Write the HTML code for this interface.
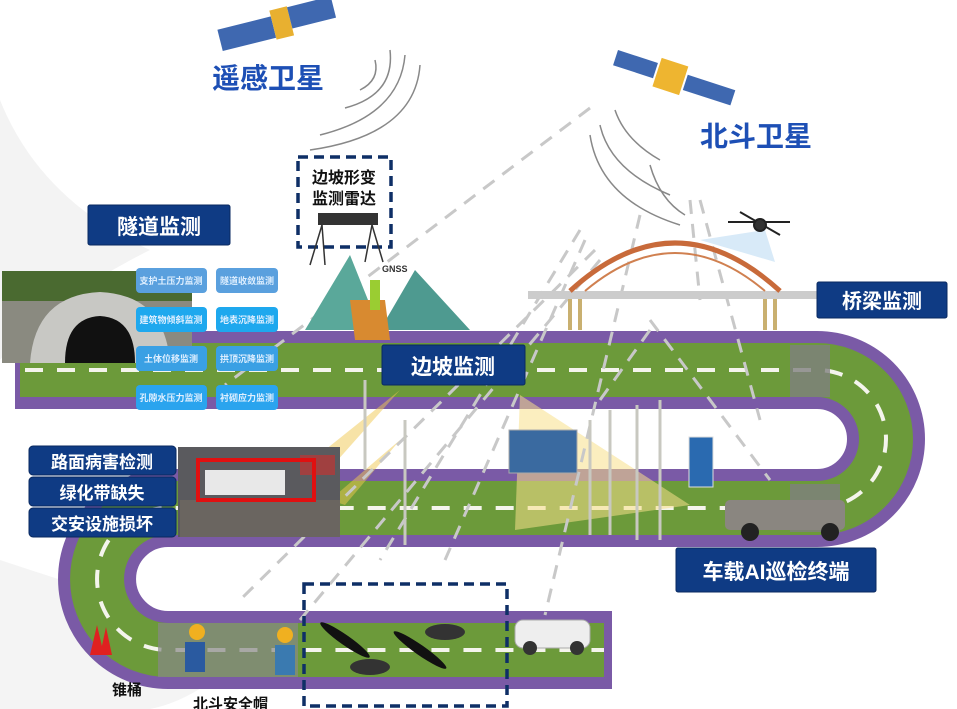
<!DOCTYPE html>
<html><head><meta charset="utf-8"><style>
html,body{margin:0;padding:0;background:#fff;}
svg{display:block;}
text{font-family:"Liberation Sans","Noto Sans CJK SC",sans-serif;font-weight:bold;}
</style></head><body>
<svg width="957" height="709" viewBox="0 0 957 709" xmlns="http://www.w3.org/2000/svg">
<rect width="957" height="709" fill="#fff"/>
<!-- faint swoosh -->
<path d="M0 100 Q40 200 150 250 Q50 300 0 360 Z" fill="#f3f3f3"/>
<path d="M0 560 Q120 600 260 640 Q200 700 150 709 L0 709 Z" fill="#f4f4f4"/>

<!-- road -->
<g fill="none">
<path d="M15 370 H817 A69 69 0 0 1 817 508 H168 A71 71 0 0 0 168 650 H612" stroke="#7a5aa6" stroke-width="78"/>
<path d="M20 370 H817 A69 69 0 0 1 817 508 H168 A71 71 0 0 0 168 650 H604" stroke="#6c9a3a" stroke-width="54"/>
<path d="M25 370 H817 A69 69 0 0 1 817 508 H168 A71 71 0 0 0 168 650 H604" stroke="#f4f4ec" stroke-width="4" stroke-dasharray="18 14"/>
</g>
<rect x="790" y="345" width="40" height="52" fill="#808080" opacity=".8"/>
<rect x="790" y="484" width="50" height="48" fill="#808080" opacity=".8"/>
<rect x="158" y="623" width="140" height="54" fill="#888" opacity=".7"/>

<!-- light beams -->
<polygon points="520,395 690,505 515,530" fill="#f7e08a" opacity=".55"/>
<polygon points="400,390 300,470 320,480" fill="#f0c850" opacity=".5"/>
<polygon points="400,440 330,500 345,505" fill="#f0c850" opacity=".5"/>

<!-- dashed signal lines -->
<g stroke="#c8c8c8" stroke-width="3" stroke-dasharray="14 10" fill="none">
<line x1="590" y1="108" x2="225" y2="385"/>
<line x1="580" y1="230" x2="380" y2="560"/>
<line x1="585" y1="240" x2="445" y2="560"/>
<line x1="600" y1="260" x2="300" y2="620"/>
<line x1="595" y1="250" x2="240" y2="600"/>
<line x1="640" y1="215" x2="545" y2="615"/>
<line x1="650" y1="330" x2="600" y2="400"/>
<line x1="650" y1="320" x2="770" y2="480"/>
<line x1="690" y1="200" x2="700" y2="300"/>
<line x1="700" y1="200" x2="760" y2="420"/>
</g>
<!-- signal arcs -->
<g stroke="#888" stroke-width="1.5" fill="none">
<path d="M360 90 Q380 80 375 60"/>
<path d="M345 108 Q395 95 390 50"/>
<path d="M320 135 Q400 115 405 55"/>
<path d="M310 150 Q415 135 420 65"/>
<path d="M615 110 Q625 140 660 160"/>
<path d="M600 125 Q610 170 670 195"/>
<path d="M590 135 Q600 200 680 225"/>
<path d="M650 165 Q660 200 685 215"/>
</g>

<!-- satellites -->
<g transform="translate(215,20) rotate(-14)">
<rect x="0" y="10" width="55" height="22" fill="#3f68b0"/>
<rect x="55" y="4" width="18" height="30" fill="#e8b030"/>
<rect x="73" y="5" width="45" height="22" fill="#3f68b0"/>
</g>
<g transform="translate(618,50) rotate(18)">
<rect x="0" y="0" width="42" height="16" fill="#3f68b0"/>
<rect x="44" y="-6" width="28" height="30" fill="#eeb530"/>
<rect x="74" y="2" width="50" height="16" fill="#3f68b0"/>
</g>
<text x="212" y="88" font-size="28" fill="#1d4fb5">遥感卫星</text>
<text x="700" y="146" font-size="28" fill="#1d4fb5">北斗卫星</text>

<!-- radar box -->
<rect x="298" y="157" width="93" height="90" fill="#fff" stroke="#0e2f66" stroke-width="3.5" stroke-dasharray="10 6"/>
<text x="344" y="183" font-size="16" fill="#111" text-anchor="middle">边坡形变</text>
<text x="344" y="204" font-size="16" fill="#111" text-anchor="middle">监测雷达</text>
<rect x="318" y="213" width="60" height="12" fill="#333"/>
<g stroke="#333" stroke-width="1.5"><line x1="322" y1="225" x2="310" y2="265"/><line x1="322" y1="225" x2="325" y2="265"/><line x1="372" y1="225" x2="365" y2="262"/><line x1="372" y1="225" x2="383" y2="262"/></g>

<!-- mountains -->
<polygon points="305,330 350,255 380,330" fill="#5aa89a"/>
<polygon points="380,330 415,270 470,330" fill="#4e9a90"/>
<polygon points="350,300 385,300 390,340 355,340" fill="#d88a30"/>
<rect x="370" y="280" width="10" height="30" fill="#9acd32"/>
<text x="382" y="272" font-size="9" fill="#333" font-weight="normal">GNSS</text>

<!-- bridge -->
<rect x="528" y="291" width="290" height="8" fill="#ccc"/>
<path d="M570 291 Q675 195 780 291" fill="none" stroke="#c86a3a" stroke-width="5"/>
<path d="M585 291 Q675 215 765 291" fill="none" stroke="#d08050" stroke-width="2"/>
<g stroke="#c9b070" stroke-width="4"><line x1="570" y1="299" x2="570" y2="330"/><line x1="580" y1="299" x2="580" y2="330"/><line x1="765" y1="299" x2="765" y2="330"/><line x1="775" y1="299" x2="775" y2="330"/></g>
<!-- drone -->
<polygon points="700,240 765,230 775,262" fill="#d8eaf8"/>
<g stroke="#222" stroke-width="2"><line x1="728" y1="222" x2="790" y2="222"/><line x1="740" y1="212" x2="780" y2="235"/><circle cx="760" cy="225" r="6" fill="#333"/></g>

<!-- labels -->
<g fill="#0f3b84" stroke="#0a2a60" stroke-width="1">
<rect x="88" y="205" width="142" height="40" rx="2"/>
<rect x="817" y="282" width="130" height="36" rx="2"/>
<rect x="382" y="345" width="143" height="40" rx="2"/>
<rect x="29" y="446" width="147" height="29" rx="4"/>
<rect x="29" y="477" width="147" height="29" rx="4"/>
<rect x="29" y="508" width="147" height="29" rx="4"/>
<rect x="676" y="548" width="200" height="44" rx="2"/>
</g>
<g fill="#fff" text-anchor="middle">
<text x="159" y="234" font-size="21">隧道监测</text>
<text x="882" y="308" font-size="20">桥梁监测</text>
<text x="453" y="374" font-size="21">边坡监测</text>
<text x="102" y="468" font-size="17">路面病害检测</text>
<text x="102" y="499" font-size="17">绿化带缺失</text>
<text x="102" y="530" font-size="17">交安设施损坏</text>
<text x="776" y="579" font-size="21">车载AI巡检终端</text>
</g>

<!-- tunnel photo -->
<rect x="2" y="271" width="190" height="92" fill="#8a8a80"/>
<rect x="2" y="271" width="190" height="30" fill="#4a6a30"/>
<path d="M30 363 Q35 295 100 292 Q165 295 170 363 Z" fill="#c8c8c4"/>
<path d="M65 363 Q65 318 100 316 Q135 318 135 363 Z" fill="#111"/>
<!-- small blue boxes -->
<g font-size="9" font-weight="normal" fill="#dfefff" text-anchor="middle">
<rect x="136" y="268" width="71" height="25" rx="4" fill="#5aa0de"/><text x="171" y="284" fill="#dfefff">支护土压力监测</text>
<rect x="216" y="268" width="62" height="25" rx="4" fill="#5aa0de"/><text x="247" y="284" fill="#dfefff">隧道收敛监测</text>
<rect x="136" y="307" width="71" height="25" rx="4" fill="#1ea8ee"/><text x="171" y="323" fill="#dfefff">建筑物倾斜监测</text>
<rect x="216" y="307" width="62" height="25" rx="4" fill="#1ea8ee"/><text x="247" y="323" fill="#dfefff">地表沉降监测</text>
<rect x="136" y="346" width="71" height="25" rx="4" fill="#3aa0e4"/><text x="171" y="362" fill="#dfefff">土体位移监测</text>
<rect x="216" y="346" width="62" height="25" rx="4" fill="#3aa0e4"/><text x="247" y="362" fill="#dfefff">拱顶沉降监测</text>
<rect x="136" y="385" width="71" height="25" rx="4" fill="#2aa4ee"/><text x="171" y="401" fill="#dfefff">孔隙水压力监测</text>
<rect x="216" y="385" width="62" height="25" rx="4" fill="#2aa4ee"/><text x="247" y="401" fill="#dfefff">衬砌应力监测</text>
</g>

<!-- accident photo -->
<rect x="178" y="447" width="162" height="90" fill="#5a5a5e"/>
<rect x="180" y="500" width="160" height="37" fill="#6a6560"/>
<rect x="205" y="470" width="80" height="25" fill="#e8e8e8"/>
<rect x="300" y="455" width="35" height="20" fill="#a04040"/>
<rect x="198" y="460" width="116" height="40" fill="none" stroke="#e01010" stroke-width="4"/>

<!-- poles -->
<g stroke="#c8c8c0" stroke-width="3">
<line x1="405" y1="420" x2="405" y2="545"/><line x1="365" y1="380" x2="365" y2="470"/>
<line x1="590" y1="420" x2="590" y2="535"/><line x1="610" y1="410" x2="610" y2="535"/><line x1="637" y1="405" x2="637" y2="540"/><line x1="660" y1="400" x2="660" y2="540"/>
</g>
<rect x="509" y="430" width="68" height="43" fill="#3a6aa0" stroke="#aaa"/>
<rect x="689" y="437" width="24" height="50" fill="#2a6ab0" stroke="#ddd"/>
<!-- truck -->
<rect x="725" y="500" width="120" height="30" rx="5" fill="#8a8680"/>
<circle cx="750" cy="532" r="9" fill="#222"/><circle cx="830" cy="532" r="9" fill="#222"/>
<!-- car -->
<rect x="515" y="620" width="75" height="28" rx="8" fill="#eee" stroke="#aaa"/>
<circle cx="530" cy="648" r="7" fill="#333"/><circle cx="577" cy="648" r="7" fill="#333"/>
<!-- cones, workers -->
<polygon points="90,655 97,625 104,655" fill="#e02020"/><polygon points="100,655 106,627 112,655" fill="#e02020"/>
<circle cx="197" cy="632" r="8" fill="#f0b020"/><rect x="185" y="642" width="20" height="30" fill="#2a5aa0"/>
<circle cx="285" cy="635" r="8" fill="#f0b020"/><rect x="275" y="645" width="20" height="30" fill="#3a7ab0"/>
<ellipse cx="345" cy="640" rx="30" ry="5" fill="#111" transform="rotate(35 345 640)"/>
<ellipse cx="420" cy="650" rx="32" ry="5" fill="#111" transform="rotate(35 420 650)"/>
<ellipse cx="445" cy="632" rx="20" ry="8" fill="#333"/><ellipse cx="370" cy="667" rx="20" ry="8" fill="#333"/>
<!-- bottom dashed box -->
<rect x="304" y="584" width="203" height="122" fill="none" stroke="#0e2f66" stroke-width="3.5" stroke-dasharray="10 6"/>
<text x="112" y="695" font-size="15" fill="#111">锥桶</text>
<text x="193" y="709" font-size="15" fill="#111">北斗安全帽</text>
</svg>
</body></html>
